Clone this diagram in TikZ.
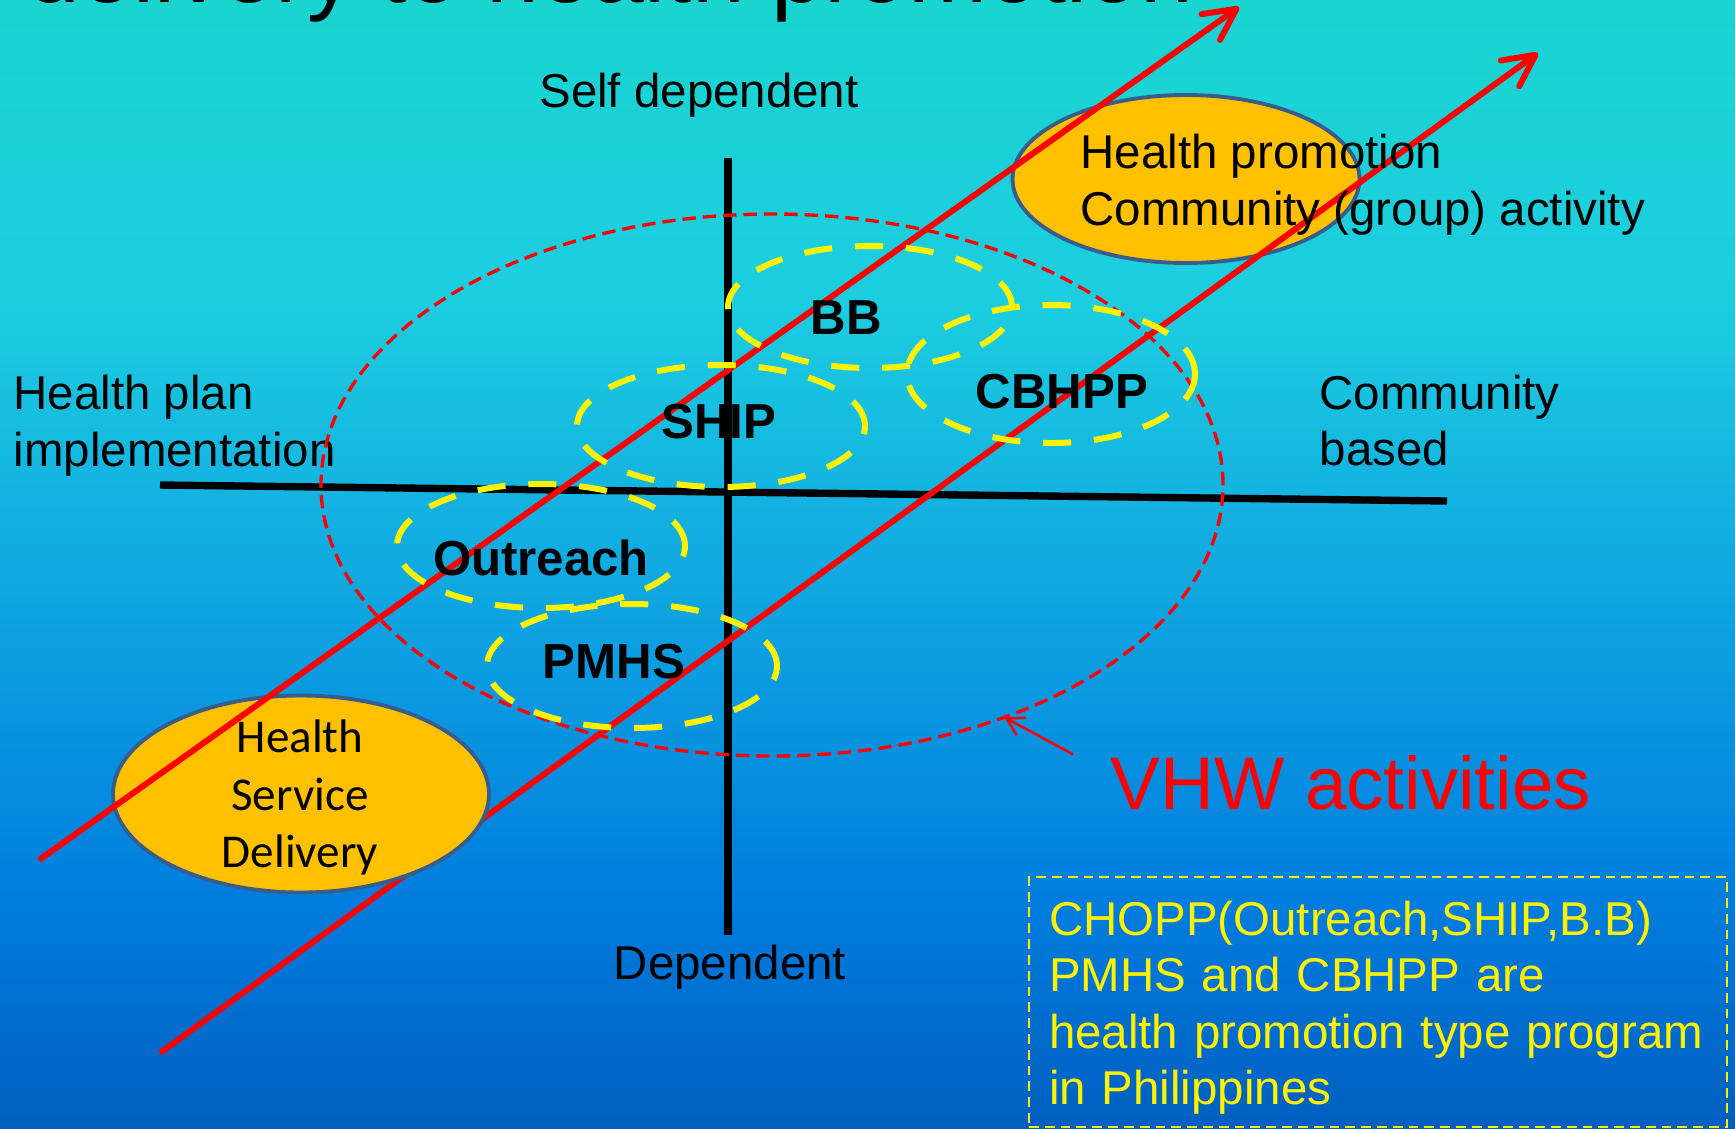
\documentclass[tikz,border=0pt]{standalone}
\usepackage{fontspec}
\setmainfont{Liberation Sans}
\newfontfamily\calibri{Carlito}
\usetikzlibrary{arrows.meta,shapes.geometric}

\definecolor{bgA}{RGB}{26,212,208}
\definecolor{bgB}{RGB}{28,205,224}
\definecolor{bgC}{RGB}{15,165,225}
\definecolor{bgD}{RGB}{0,125,222}
\definecolor{bgE}{RGB}{0,95,192}
\definecolor{bubbleorange}{RGB}{255,192,0}
\definecolor{rimblue}{RGB}{56,93,138}
\pgfdeclareverticalshading{slidebg}{100bp}{color(0bp)=(bgE); color(25bp)=(bgE); color(35.1bp)=(bgD); color(48.4bp)=(bgC); color(61.7bp)=(bgB); color(75bp)=(bgA); color(100bp)=(bgA)}

\begin{document}
\begin{tikzpicture}[
    lbl/.style={font=\fontsize{13.5}{16.1}\selectfont, inner sep=0pt},
    prog/.style={font=\fontsize{14}{16.8}\selectfont\bfseries, inner sep=0pt},
    ring/.style={yellow, line width=1.7pt, dash pattern=on 8pt off 6.5pt},
    bubble/.style={ellipse, draw=rimblue, fill=bubbleorange, line width=1.1pt, inner sep=0pt, outer sep=0pt},
    bigarrow/.style={red, line width=1.7pt, -{Straight Barb[round, length=9pt, width=9pt]}},
    axisline/.style={line width=2.1pt},
]
    % Slide background
    \useasboundingbox (0,0) rectangle (17.35,-11.28);
    \shade[shading=slidebg] (0,0) rectangle (17.35,-11.28);

    % Title, cut off at the top edge
    \begin{scope}
        \clip (0,0) rectangle (17.35,-11.28);
        \node[font=\fontsize{27}{32}\selectfont, anchor=base west, inner sep=0pt] (title) at (0.27,-0.02) {delivery to health promotion};
    \end{scope}

    % Draw axes
    \coordinate (vtop) at (7.28,-1.58);
    \coordinate (vbot) at (7.28,-9.35);
    \coordinate (hleft) at (1.60,-4.85);
    \coordinate (hright) at (14.47,-5.01);
    \draw[axisline] (vtop) -- (vbot);
    \draw[axisline] (hleft) -- (hright);
    \node[lbl, anchor=base] (selfdep) at (6.99,-1.07) {Self dependent};
    \node[lbl, anchor=base] (dep) at (7.30,-9.79) {Dependent};
    \node[lbl, align=left, anchor=west] (plan) at (0.13,-4.255) {Health plan\\implementation};
    \node[lbl, align=left, anchor=west] (commb) at (13.19,-4.205) {Community\\based};

    % Bubbles and the two red arrows
    \coordinate (tail1) at (0.39,-8.60);
    \coordinate (tip1) at (12.39,-0.07);
    \coordinate (tail2) at (1.60,-10.53);
    \coordinate (tip2) at (15.38,-0.53);
    \node[bubble, minimum width=3.47cm, minimum height=1.68cm] (hpell) at (11.86,-1.79) {};
    \draw[bigarrow] (tail2) -- (tip2);
    \node[bubble, minimum width=3.76cm, minimum height=1.97cm] (hsdell) at (3.01,-7.94) {};
    \node[font=\calibri\fontsize{13.4}{16.4}\selectfont, align=center, inner sep=0pt] (hsd) at (3.00,-7.975) {Health\\Service\\Delivery};
    \draw[bigarrow] (tail1) -- (tip1);

    % VHW area
    \node[ellipse, draw=red, line width=0.95pt, dash pattern=on 3.8pt off 2pt, minimum width=9.02cm, minimum height=5.42cm, inner sep=0pt, outer sep=0pt] (vhwzone) at (7.72,-4.85) {};

    % Programs
    \draw[ring] (8.70,-3.07) ellipse [x radius=1.42, y radius=0.61];
    \draw[ring] (10.51,-3.74) ellipse [x radius=1.44, y radius=0.69];
    \draw[ring] (7.21,-4.26) ellipse [x radius=1.44, y radius=0.61];
    \draw[ring] (5.41,-5.46) ellipse [x radius=1.44, y radius=0.62];
    \draw[ring] (6.32,-6.66) ellipse [x radius=1.45, y radius=0.62];
    \node[prog] (bb) at (8.46,-3.18) {BB};
    \node[prog] (cbhpp) at (10.62,-3.92) {CBHPP};
    \node[prog] (ship) at (7.19,-4.22) {SHIP};
    \node[prog] (outreach) at (5.41,-5.58) {Outreach};
    \node[prog] (pmhs) at (6.14,-6.62) {PMHS};

    \node[lbl, align=left, anchor=west] (hp) at (10.80,-1.85) {Health promotion\\Community (group) activity};

    % VHW label
    \node[font=\fontsize{21.2}{25}\selectfont, text=red, anchor=base west, inner sep=0pt] (vhw) at (11.10,-8.09) {VHW activities};
    \draw[red, line width=0.7pt, -{Straight Barb[length=4.8pt, width=5.6pt]}] ([xshift=-0.37cm]vhw.north west) -- (vhwzone.-45);

    % Note box
    \node[lbl, draw=yellow, line width=0.7pt, dash pattern=on 2.8pt off 1.7pt, text=yellow, align=left, text width=6.58cm, inner xsep=0.2cm, minimum width=6.98cm, minimum height=2.5cm] (note) at (13.78,-10.02) {\rule{0pt}{0.46cm}CHOPP(Outreach,SHIP,B.B)\\PMHS and CBHPP are\\health promotion type program\\in Philippines};
\end{tikzpicture}
\end{document}
